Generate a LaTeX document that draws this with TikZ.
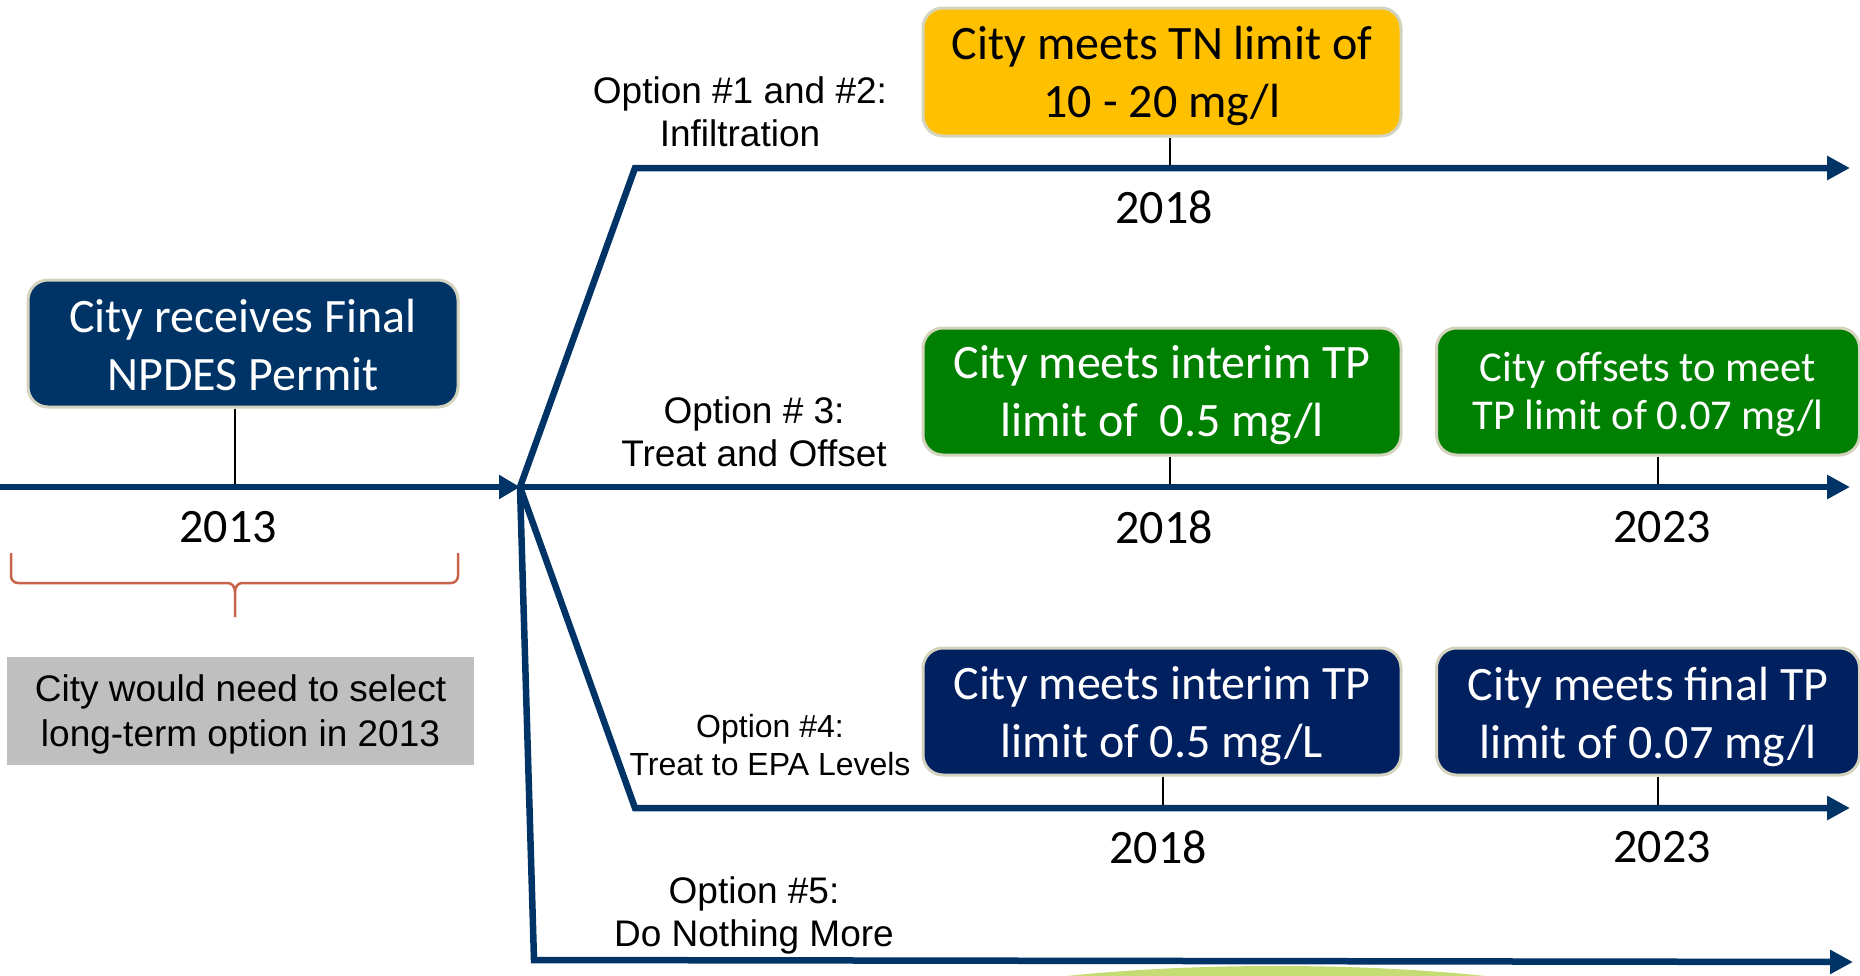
\documentclass[tikz,border=0pt]{standalone}
\usepackage{fontspec}
\setmainfont{Carlito}
\newfontfamily\arialf{Liberation Sans}
\usetikzlibrary{arrows.meta}
\definecolor{navyA}{HTML}{003366}
\definecolor{navyB}{HTML}{002060}
\definecolor{lineblue}{HTML}{003366}
\definecolor{boxgreen}{HTML}{008000}
\definecolor{boxyellow}{HTML}{FFC000}
\definecolor{boxgray}{HTML}{BFBFBF}
\definecolor{boxedge}{HTML}{D4D4BE}
\definecolor{bracecol}{HTML}{C8644A}
\definecolor{swoosh}{HTML}{C5DB74}
\begin{document}
\begin{tikzpicture}[x=1pt,y=-1pt,
  evbox/.style={rounded corners=20pt, draw=boxedge, line width=3pt, inner sep=0pt},
  evtext/.style={align=center, inner sep=0pt, text=white, font=\fontsize{48}{58}\selectfont},
  yearlbl/.style={font=\fontsize{48}{50}\selectfont, inner sep=0pt},
  optlbl/.style={font=\arialf\fontsize{37}{43}\selectfont, align=center, inner sep=0pt},
  optsmall/.style={font=\arialf\fontsize{32}{38}\selectfont, align=center, inner sep=0pt},
  tl/.style={draw=lineblue, line width=6.5pt},
  tlarrow/.style={tl, -{Triangle[length=23pt,width=23pt]}},
  tickline/.style={draw=black, line width=1.5pt},
  bracestyle/.style={draw=bracecol, line width=2.5pt}]
\useasboundingbox (0,0) rectangle (1860,975);
\fill[white] (0,0) rectangle (1860,975);
% decorative swoosh at the bottom
\fill[swoosh] (1276,1030) ellipse [x radius=390pt, y radius=64pt];

% event boxes
\node[evbox, fill=navyA, minimum width=430pt, minimum height=127pt,
  label={[evtext, yshift=-2pt]center:{City receives Final\\NPDES Permit}}] (permit) at (243,343.5) {};
\node[evbox, fill=boxyellow, minimum width=478pt, minimum height=128pt,
  label={[evtext, text=black, yshift=-4pt]center:{City meets TN limit of\\10 - 20 mg/l}}] (tn) at (1162,72) {};
\node[evbox, fill=boxgreen, minimum width=478pt, minimum height=127pt,
  label={[evtext, yshift=-4pt]center:{City meets interim TP\\limit of~~0.5 mg/l}}] (g1) at (1162,391.5) {};
\node[evbox, fill=boxgreen, minimum width=423pt, minimum height=127pt,
  label={[evtext, font=\fontsize{42.5}{48}\selectfont, yshift=-3pt]center:{City offsets to meet\\TP limit of 0.07 mg/l}}] (g2) at (1648,391.5) {};
\node[evbox, fill=navyB, minimum width=478pt, minimum height=127pt,
  label={[evtext, yshift=-5pt]center:{City meets interim TP\\limit of 0.5 mg/L}}] (n1) at (1162,711.5) {};
\node[evbox, fill=navyB, minimum width=423pt, minimum height=127pt,
  label={[evtext, yshift=-5pt]center:{City meets final TP\\limit of 0.07 mg/l}}] (n2) at (1648,711.5) {};
\node[fill=boxgray, minimum width=467pt, minimum height=108pt, inner sep=0pt,
  label={[align=center, inner sep=0pt, font=\arialf\fontsize{37}{45}\selectfont, yshift=-3pt]center:{City would need to select\\long-term option in 2013}}] (sel) at (240.5,711) {};

% option labels
\node[optlbl] (opt12) at (740,112) {Option \#1 and \#2:\\Infiltration};
\node[optlbl] (opt3) at (754,432) {Option \# 3:\\Treat and Offset};
\node[optsmall] (opt4) at (770,745) {Option \#4:\\Treat to EPA Levels};
\node[optlbl] (opt5) at (754,915.5) {Option \#5:\\Do Nothing More};

% years
\node[yearlbl] (y2013) at (228,527) {2013};
\node[yearlbl] (y2018a) at (1164,207) {2018};
\node[yearlbl] (y2018b) at (1164,527) {2018};
\node[yearlbl] (y2023b) at (1662,527) {2023};
\node[yearlbl] (y2018c) at (1158,847) {2018};
\node[yearlbl] (y2023c) at (1662,847) {2023};

% timeline coordinates
\coordinate (s0) at (0,487);
\coordinate (hub) at (520,487);
\coordinate (a1) at (635,168);
\coordinate (e1) at (1850,168);
\coordinate (e3) at (1850,487);
\coordinate (a4) at (635,808);
\coordinate (e4) at (1850,808);
\coordinate (a5) at (534,960);
\coordinate (e5) at (1853,962);

% tick coordinates
\coordinate (k0) at (235,487);
\coordinate (k1) at (1170,168);
\coordinate (k3a) at (1170,487);
\coordinate (k3b) at (1658,487);
\coordinate (k4a) at (1163,808);
\coordinate (k4b) at (1658,808);

% ticks
\draw[tickline] (permit.south -| k0) -- (k0);
\draw[tickline] (tn.south -| k1) -- (k1);
\draw[tickline] (g1.south -| k3a) -- (k3a);
\draw[tickline] (g2.south -| k3b) -- (k3b);
\draw[tickline] (n1.south -| k4a) -- (k4a);
\draw[tickline] (n2.south -| k4b) -- (k4b);

% timelines
\draw[tl, -{Triangle[length=21pt,width=23pt]}] (s0) -- (hub);
\draw[tlarrow] (hub) -- (a1) -- (e1);
\draw[tlarrow] (hub) -- (e3);
\draw[tlarrow] (hub) -- (a4) -- (e4);
\draw[tlarrow] (hub) -- (a5) -- (e5);

% brace
\coordinate (bl) at (11,553);
\coordinate (br) at (458,553);
\coordinate (bt) at (235,617);
\draw[bracestyle] (bl) -- (11,576) to[out=-90,in=180] (18,583) -- (228,583) to[out=0,in=90] (235,592) -- (bt);
\draw[bracestyle] (br) -- (458,576) to[out=-90,in=0] (451,583) -- (242,583) to[out=180,in=90] (235,592);
\end{tikzpicture}
\end{document}
